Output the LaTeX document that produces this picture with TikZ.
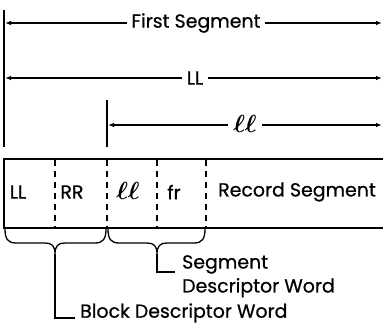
\documentclass[tikz,border=0pt]{standalone}
\usepackage{fontspec}
\setmainfont{Poppins}[AutoFakeBold=0.6]
\usetikzlibrary{arrows.meta}
\newcommand\scriptll{{\fontsize{24}{24}\selectfont\boldmath$\ell\ell$}}
\begin{document}
\begin{tikzpicture}[x=1bp,y=-1bp,
  dim/.style={line width=1.1bp,
    {Latex[length=6bp,width=4.5bp]}-{Latex[length=6bp,width=4.5bp]}},
  lbl/.style={fill=white, inner sep=5bp},
  frame/.style={line width=1.8bp},
  divider/.style={line width=1.1bp, dash pattern=on 6bp off 5bp},
  bracepath/.style={line width=1.3bp},
  leader/.style={line width=1.1bp},
  every node/.style={font=\fontsize{19}{24}\selectfont\bfseries}]
\useasboundingbox (0,0) rectangle (383,325);

% reference edges
\coordinate (Ltop) at (4,10);
\coordinate (Lbot) at (4,147);
\coordinate (Ttop) at (107,100);
\coordinate (Tbot) at (107,147);
\draw[line width=1.4bp] (Ltop) -- (Lbot);
\draw[line width=1.2bp] (Ttop) -- (Tbot);

% dimension arrows
\coordinate (fsA) at (5,23);  \coordinate (fsB) at (382,23);
\coordinate (llA) at (5,78);  \coordinate (llB) at (382,78);
\coordinate (slA) at (108,125); \coordinate (slB) at (382,125);
\draw[dim] (fsA) -- (fsB);
\draw[dim] (llA) -- (llB);
\draw[dim] (slA) -- (slB);
\node[lbl] (fs) at (196,23) {First Segment};
\node[lbl] (ll) at (195,78) {LL};
\node[lbl] (sl) at (245,124) {\scriptll};

% record frame, open on the right
\draw[frame] (383,159) -- (4,159) -- (4,228) -- (383,228);
\foreach \x in {55,107,157,206}
  \draw[divider] (\x,160) -- (\x,228);

% field labels
\node (fLL) at (18,192) {LL};
\node (fRR) at (72,192) {RR};
\node (fll) at (128,191) {\scriptll};
\node (ffr) at (174,192) {fr};
\node[anchor=west, inner sep=0pt] (frs) at (218,192) {Record Segment};

% braces under the descriptor words
\coordinate (b1tip) at (55,254);
\coordinate (b2tip) at (157,254);
\draw[bracepath] (5,229) .. controls (5,239) and (8,243) .. (16,243)
  -- (45,243) .. controls (52,243) and (55,246) .. (b1tip)
  .. controls (55,246) and (58,243) .. (65,243)
  -- (95,243) .. controls (103,243) and (106,239) .. (106,229);
\draw[bracepath] (108,229) .. controls (108,239) and (111,243) .. (119,243)
  -- (147,243) .. controls (154,243) and (157,246) .. (b2tip)
  .. controls (157,246) and (160,243) .. (167,243)
  -- (194,243) .. controls (202,243) and (205,239) .. (205,229);

% leaders to the captions
\coordinate (sdEnd) at (175,272);
\coordinate (bdEnd) at (75,318);
\draw[leader] (b2tip) |- (sdEnd);
\draw[leader] (b1tip) |- (bdEnd);
\node[anchor=north west, align=left, inner sep=0pt] (sdw) at (182,255)
  {Segment\\Descriptor Word};
\node[anchor=west, inner sep=0pt] (bdw) at (80,313) {Block Descriptor Word};
\end{tikzpicture}
\end{document}
